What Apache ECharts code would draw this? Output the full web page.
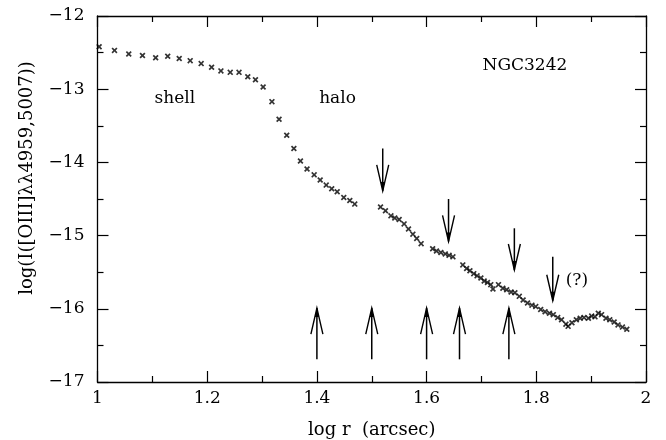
<!DOCTYPE html>
<html>
<head>
<meta charset="utf-8">
<script src="https://cdn.jsdelivr.net/npm/echarts@6/dist/echarts.min.js"></script>
<style>html,body{margin:0;padding:0;background:#fff}#c{width:666px;height:440px}</style>
</head>
<body>
<div id="c"></div>
<script>
// measured profile: log r (arcsec) and log I([OIII])
const logR = [
  1.003,1.031,1.057,1.082,1.106,1.128,1.149,1.169,1.189,1.208,1.225,1.242,1.258,1.274,1.288,1.302,
  1.318,1.331,1.345,1.358,1.370,1.382,1.395,1.406,1.417,1.427,1.437,1.449,1.460,1.469,
  1.516,1.525,1.535,1.542,1.550,1.559,1.567,1.575,1.582,1.590,
  1.611,1.618,1.626,1.634,1.641,1.648,
  1.666,1.673,1.679,1.686,1.692,1.699,1.705,1.711,1.717,1.721,
  1.731,1.739,1.746,1.754,1.761,1.769,1.776,1.784,1.792,1.799,1.808,1.816,1.824,1.831,1.839,1.846,
  1.854,1.858,1.865,1.873,1.880,1.887,1.895,1.901,1.907,1.913,1.919,1.927,1.934,1.942,1.949,1.957,1.965
];
const logI = [
  -12.42,-12.47,-12.52,-12.54,-12.57,-12.55,-12.58,-12.61,-12.65,-12.70,-12.75,-12.77,-12.77,-12.83,-12.87,-12.97,
  -13.17,-13.41,-13.63,-13.81,-13.98,-14.09,-14.17,-14.24,-14.31,-14.36,-14.40,-14.48,-14.52,-14.57,
  -14.61,-14.66,-14.73,-14.76,-14.78,-14.84,-14.91,-14.98,-15.04,-15.11,
  -15.18,-15.21,-15.23,-15.25,-15.27,-15.29,
  -15.40,-15.45,-15.48,-15.52,-15.55,-15.58,-15.62,-15.64,-15.67,-15.73,
  -15.67,-15.72,-15.74,-15.77,-15.78,-15.83,-15.88,-15.92,-15.95,-15.97,-16.01,-16.04,-16.06,-16.08,-16.12,-16.15,
  -16.21,-16.24,-16.19,-16.15,-16.13,-16.12,-16.13,-16.10,-16.11,-16.06,-16.08,-16.13,-16.15,-16.18,-16.22,-16.25,-16.28
];
// arrows
const downArrowX   = [1.52, 1.64, 1.76, 1.83];
const downArrowTop = [-13.81, -14.50, -14.90, -15.29];
const downArrowTip = [-14.39, -15.08, -15.47, -15.89];
const upArrowX    = [1.40, 1.50, 1.60, 1.66, 1.75];
const upArrowBase = [-16.69, -16.69, -16.69, -16.69, -16.69];
const upArrowTip  = [-15.99, -15.99, -15.99, -15.99, -15.99];
// annotations
const noteText = ['NGC3242', 'shell', 'halo', '(?)'];
const noteX    = [1.702, 1.141, 1.4376, 1.874];
const noteY    = [-12.68, -13.13, -13.13, -15.61];
const noteAlign = ['left', 'center', 'center', 'center'];
// axes
const xTicks = [1, 1.2, 1.4, 1.6, 1.8, 2];
const yTicks = [-17, -16, -15, -14, -13, -12];

const FONT = 'DejaVu Serif';
const chart = echarts.init(document.getElementById('c'), null, {renderer: 'canvas'});

const points = logR.map((x, i) => [x, logI[i]]);
const arrows = downArrowX.map((x, i) => [x, downArrowTop[i], downArrowTip[i]])
  .concat(upArrowX.map((x, i) => [x, upArrowBase[i], upArrowTip[i]]));
const notes = noteText.map((t, i) => [noteX[i], noteY[i], i]);

const crossPath = 'path://M0,2 L2,0 L5,3 L8,0 L10,2 L7,5 L10,8 L8,10 L5,7 L2,10 L0,8 L3,5 Z';

function axisCommon(showLabel) {
  return {
    axisLine: {show: true, onZero: false, lineStyle: {color: '#000', width: 1.3}},
    axisTick: {show: true, inside: true, length: 11, lineStyle: {color: '#000', width: 1.2}},
    minorTick: {show: true, splitNumber: 2, length: 6, lineStyle: {color: '#000', width: 1.2}},
    splitLine: {show: false},
    minorSplitLine: {show: false},
    axisLabel: {show: showLabel, color: '#000', fontFamily: FONT, fontSize: 17,
      formatter: v => String(v).replace('-', '\u2212')}
  };
}

const option = {
  animation: false,
  backgroundColor: '#fff',
  grid: {left: 97.5, right: 20, top: 16, bottom: 58, containLabel: false, outerBoundsMode: 'none'},
  xAxis: [
    Object.assign(axisCommon(true), {type: 'value', min: 1, max: 2, interval: 0.2, position: 'bottom',
      name: 'log r  (arcsec)', nameLocation: 'middle', nameGap: 39,
      nameTextStyle: {color: '#000', fontFamily: FONT, fontSize: 18}}),
    Object.assign(axisCommon(false), {type: 'value', min: 1, max: 2, interval: 0.2, position: 'top'})
  ],
  yAxis: [
    Object.assign(axisCommon(true), {type: 'value', min: -17, max: -12, interval: 1, position: 'left',
      axisLabel: Object.assign(axisCommon(true).axisLabel, {margin: 13})}),
    Object.assign(axisCommon(false), {type: 'value', min: -17, max: -12, interval: 1, position: 'right'})
  ],
  graphic: [{
    type: 'text', x: 27, y: 178, rotation: Math.PI / 2,
    style: {text: 'log(I([OIII]\u03bb\u03bb4959,5007))', fill: '#000', font: '18px "' + FONT + '"',
      textAlign: 'center', textVerticalAlign: 'middle'}
  }],
  series: [
    {
      type: 'scatter', data: points, symbol: crossPath, symbolSize: 6,
      itemStyle: {color: '#000'}, silent: true
    },
    {
      type: 'custom', data: arrows, silent: true,
      renderItem: function (params, api) {
        const a = api.coord([api.value(0), api.value(1)]);
        const t = api.coord([api.value(0), api.value(2)]);
        const dir = t[1] > a[1] ? 1 : -1;
        const hl = 26, hw = 6;
        return {
          type: 'group',
          children: [
            {type: 'line', shape: {x1: a[0], y1: a[1], x2: t[0], y2: t[1]},
              style: {stroke: '#000', lineWidth: 1.5}},
            {type: 'polyline', shape: {points: [[t[0] - hw, t[1] - dir * hl], [t[0], t[1]], [t[0] + hw, t[1] - dir * hl]]},
              style: {stroke: '#000', lineWidth: 1.4, fill: null}},
            {type: 'polygon', shape: {points: [[t[0] - 2, t[1] - dir * 9], [t[0], t[1]], [t[0] + 2, t[1] - dir * 9]]},
              style: {fill: '#000'}}
          ]
        };
      }
    },
    {
      type: 'custom', data: notes, silent: true,
      renderItem: function (params, api) {
        const p = api.coord([api.value(0), api.value(1)]);
        const i = api.value(2);
        return {
          type: 'text', x: p[0], y: p[1],
          style: {text: noteText[i], fill: '#000', font: '17px "' + FONT + '"',
            textAlign: noteAlign[i], textVerticalAlign: 'middle'}
        };
      }
    }
  ]
};
chart.setOption(option);
</script>
</body>
</html>
